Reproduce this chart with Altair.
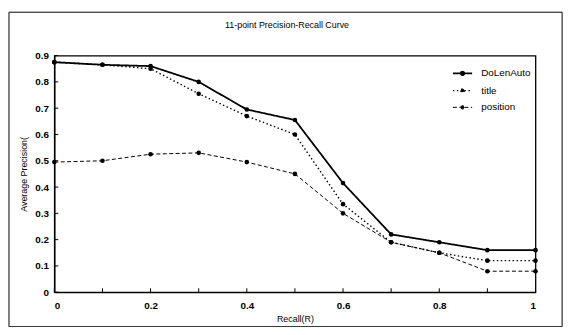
import altair as alt
import pandas as pd

recall = [0.0, 0.1, 0.2, 0.3, 0.4, 0.5, 0.6, 0.7, 0.8, 0.9, 1.0]
dolenauto = [0.875, 0.865, 0.86, 0.80, 0.695, 0.655, 0.415, 0.22, 0.19, 0.16, 0.16]
title_s = [0.875, 0.865, 0.85, 0.755, 0.67, 0.60, 0.335, 0.19, 0.15, 0.12, 0.12]
position = [0.495, 0.50, 0.525, 0.53, 0.495, 0.45, 0.30, 0.19, 0.15, 0.08, 0.08]
series_names = ["DoLenAuto", "title", "position"]
x_ticks = [0.0, 0.1, 0.2, 0.3, 0.4, 0.5, 0.6, 0.7, 0.8, 0.9, 1.0]
x_labels = [0.0, 0.2, 0.4, 0.6, 0.8, 1.0]
y_ticks = [0.0, 0.1, 0.2, 0.3, 0.4, 0.5, 0.6, 0.7, 0.8, 0.9]
chart_title = "11-point Precision-Recall Curve"

rows = []
for name, vals in zip(series_names, [dolenauto, title_s, position]):
    for r, v in zip(recall, vals):
        rows.append({"recall": r, "precision": v, "series": name})
df = pd.DataFrame(rows)

W, H = 488, 240
FONT = "Liberation Sans"

xs = alt.Scale(domain=[0, 1], nice=False)
ys = alt.Scale(domain=[0, 0.9], nice=False)

sym = "M-1,0H-0.2M0.2,0H1M-0.18,0a0.18,0.18 0 1,0 0.36,0a0.18,0.18 0 1,0 -0.36,0"

dash = alt.StrokeDash(
    "series:N",
    scale=alt.Scale(domain=series_names, range=[[1, 0], [1.5, 2.5], [4, 2.5]]),
    legend=alt.Legend(
        title=None, orient="none", legendX=403, legendY=7,
        symbolType=sym, symbolStrokeColor="black", symbolFillColor="black",
        symbolStrokeWidth=1.2,
        symbolSize=380, labelFont=FONT, labelFontSize=10, labelColor="black",
        rowPadding=1, labelOffset=8,
    ),
)
sw = alt.StrokeWidth(
    "series:N",
    scale=alt.Scale(domain=series_names, range=[1.8, 1.0, 1.4]),
    legend=None,
)

xaxis = alt.Axis(values=x_labels, format="~g", ticks=False, labelPadding=9,
                 titlePadding=4, labelOverlap=False)
yaxis = alt.Axis(values=y_ticks, format="~g", ticks=False, labelPadding=6,
                 titlePadding=6, labelOverlap=False)
XT = "Recall(R)"
YT = "Average Precision("

lines = alt.Chart(df).mark_line(color="black").encode(
    x=alt.X("recall:Q", scale=xs, title=XT, axis=xaxis),
    y=alt.Y("precision:Q", scale=ys, title=YT, axis=yaxis),
    strokeDash=dash,
    strokeWidth=sw,
    detail="series:N",
)

points = alt.Chart(df).mark_point(filled=True, color="black", size=22, opacity=1).encode(
    x=alt.X("recall:Q", scale=xs, title=XT, axis=xaxis),
    y=alt.Y("precision:Q", scale=ys, title=YT, axis=yaxis),
    detail="series:N",
)

xt = alt.Chart(pd.DataFrame({"t": x_ticks})).mark_rule(color="black", strokeWidth=1).encode(
    x=alt.X("t:Q", scale=xs, title=XT, axis=xaxis), y=alt.value(H - 4), y2=alt.value(H)
)
yt = alt.Chart(pd.DataFrame({"t": y_ticks})).mark_rule(color="black", strokeWidth=1).encode(
    y=alt.Y("t:Q", scale=ys, title=YT, axis=yaxis), x=alt.value(0), x2=alt.value(4)
)

frame = alt.Chart(pd.DataFrame({"a": [0]})).mark_rect(
    fill=None, stroke="black", strokeWidth=1, clip=False
).encode(
    x=alt.value(-46), x2=alt.value(W + 27), y=alt.value(-44), y2=alt.value(H + 35)
)

ttl = alt.Chart(pd.DataFrame({"t": [chart_title]})).mark_text(
    font=FONT, fontSize=9, color="black", align="center", baseline="middle"
).encode(text="t:N", x=alt.value(W / 2 - 8), y=alt.value(-31))

chart = alt.layer(lines, points, xt, yt, frame, ttl).properties(
    width=W, height=H,
    autosize=alt.AutoSizeParams(type="none"),
    padding={"left": 47, "top": 46, "right": 35, "bottom": 33},
).configure_axis(
    labelFont=FONT, labelFontSize=10, labelFontWeight="bold", labelColor="black",
    titleFont=FONT, titleFontSize=9, titleFontWeight="normal", titleColor="black",
    domainColor="black", domainWidth=1.3, grid=False,
).configure_view(stroke="black", strokeWidth=1.3)

chart.save("out.html", embed_options={"renderer": "svg", "actions": False})
